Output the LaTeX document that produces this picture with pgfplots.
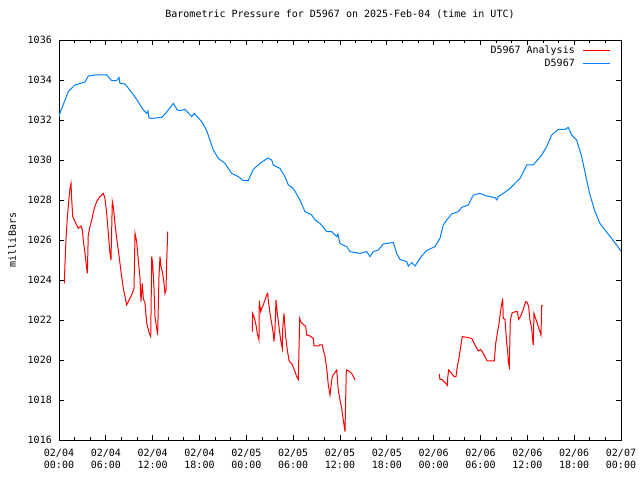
\documentclass[border=0pt]{standalone}
\usepackage{fontspec}
\setmainfont{DejaVu Sans Mono}
\usepackage{pgfplots}
\pgfplotsset{compat=1.18}
\newcommand\gf{\fontsize{10bp}{12bp}\selectfont}
\definecolor{gblue}{RGB}{0,128,255}
\pgfplotsset{
  shortline/.style={legend image code/.code={\draw[##1] (0bp,0bp) -- (27bp,0bp);}},
}
\begin{document}
\begin{tikzpicture}
\path[use as bounding box] (-59bp,-40bp) rectangle (581bp,440bp);
\begin{axis}[
  at={(0,0)}, anchor=south west,
  scale only axis, width=562bp, height=400bp,
  xmin=0, xmax=72, ymin=1016, ymax=1036,
  xtick={0,6,...,72},
  xticklabels={{02/04\\00:00},{02/04\\06:00},{02/04\\12:00},{02/04\\18:00},{02/05\\00:00},{02/05\\06:00},{02/05\\12:00},{02/05\\18:00},{02/06\\00:00},{02/06\\06:00},{02/06\\12:00},{02/06\\18:00},{02/07\\00:00}},
  minor x tick num=2,
  ytick={1016,1018,...,1036},
  /pgf/number format/assume math mode=true,
  /pgf/number format/set thousands separator={},
  yticklabel style={font=\gf, inner sep=0pt, xshift=-7bp},
  xticklabel style={font=\gf, align=center, inner sep=0pt, yshift=-9bp},
  tick align=inside,
  major tick length=5bp, minor tick length=3bp,
  tick style={black, line width=0.8bp},
  axis line style={black, line width=0.8bp},
  title={Barometric Pressure for D5967 on 2025-Feb-04 (time in UTC)},
  title style={font=\gf, at={(axis description cs:0.5,1)}, anchor=base, yshift=17bp, inner sep=0pt},
  ylabel={milliBars},
  ylabel style={font=\gf, at={(axis description cs:-0.0836,0.5)}, anchor=center, inner sep=0pt},
  legend style={at={(axis description cs:1,1)}, anchor=north east, xshift=-10bp, yshift=-5bp,
    draw=none, fill=none, font=\gf, inner sep=0pt, row sep=2bp,
    nodes={inner sep=1bp}, /tikz/column 1/.style={column sep=7bp}},
  legend cell align=right,
  legend plot pos=right,
  shortline,
  unbounded coords=jump,
  clip=true,
]
\addplot[red, line width=1bp] coordinates {
(0.68,1023.83) (0.77,1024.83) (0.90,1026.08) (1.06,1027.08) (1.28,1028.08) (1.41,1028.58) (1.54,1028.83) (1.63,1028.0) (1.76,1027.17) (2.05,1026.92) (2.47,1026.58) (2.82,1026.7) (2.99,1026.5) (3.11,1026.0) (3.33,1025.33) (3.55,1024.58) (3.63,1024.33) (3.75,1026.25) (3.97,1026.67) (4.19,1027.0) (4.52,1027.58) (4.83,1027.92) (5.25,1028.17) (5.68,1028.33) (5.89,1028.08) (6.11,1027.33) (6.32,1026.33) (6.53,1025.33) (6.66,1025.0) (6.83,1027.92) (6.96,1027.67) (7.17,1026.83) (7.39,1026.08) (7.60,1025.5) (7.81,1024.83) (8.03,1024.17) (8.24,1023.58) (8.46,1023.17) (8.67,1022.75) (8.88,1022.92) (9.31,1023.25) (9.61,1023.58) (9.74,1026.33) (9.95,1025.92) (10.16,1025.0) (10.38,1024.08) (10.5,1022.92) (10.67,1023.83) (10.80,1023.08) (11.02,1022.83) (11.24,1021.83) (11.57,1021.33) (11.75,1021.17) (11.88,1025.17) (12.0,1024.83) (12.17,1023.58) (12.30,1022.17) (12.52,1021.58) (12.64,1021.25) (12.81,1024.17) (12.94,1025.17) (13.07,1024.67) (13.23,1024.42) (13.41,1024.0) (13.58,1023.33) (13.71,1023.5) (13.80,1025.0) (13.93,1026.42)
(20,nan)
(24.76,1021.42) (24.81,1022.33) (24.98,1022.17) (25.24,1021.75) (25.40,1021.33) (25.62,1021.0) (25.66,1022.97) (25.84,1022.42) (25.97,1022.58) (26.17,1022.75) (26.39,1023.0) (26.61,1023.25) (26.74,1023.33) (26.81,1023.0) (27.03,1022.33) (27.25,1021.83) (27.45,1021.33) (27.54,1020.92) (27.67,1021.5) (27.80,1023.0) (27.97,1022.33) (28.18,1021.67) (28.40,1021.0) (28.61,1020.58) (28.66,1021.58) (28.82,1022.33) (29.04,1021.17) (29.25,1020.5) (29.50,1019.92) (29.81,1019.83) (30.02,1019.63) (30.23,1019.42) (30.45,1019.17) (30.66,1019.03) (30.75,1020.58) (30.84,1022.08) (30.96,1021.92) (31.17,1021.83) (31.61,1021.67) (31.73,1021.25) (32.16,1021.2) (32.58,1021.08) (32.67,1020.7) (33.22,1020.7) (33.35,1020.75) (33.73,1020.75) (33.86,1020.5) (34.08,1020.17) (34.30,1019.58) (34.50,1018.75) (34.72,1018.25) (34.81,1018.58) (35.01,1019.17) (35.27,1019.33) (35.58,1019.5) (35.78,1018.5) (36.0,1018.0) (36.22,1017.58) (36.42,1017.0) (36.64,1016.42) (36.73,1018.08) (36.81,1019.5) (37.06,1019.47) (37.50,1019.33) (37.79,1019.12) (37.92,1019.0)
(44,nan)
(48.72,1019.3) (48.81,1019.03) (49.03,1019.03) (49.45,1018.87) (49.75,1018.73) (49.80,1019.12) (49.92,1019.5) (50.31,1019.33) (50.60,1019.17) (50.86,1019.17) (51.03,1019.67) (51.24,1020.08) (51.46,1020.67) (51.67,1021.17) (52.31,1021.13) (52.87,1021.08) (53.29,1020.75) (53.72,1020.45) (54.02,1020.53) (54.23,1020.42) (54.57,1020.17) (54.87,1019.95) (55.77,1019.95) (55.95,1020.83) (56.15,1021.33) (56.37,1021.83) (56.59,1022.5) (56.75,1022.87) (56.84,1023.08) (56.92,1022.08) (57.14,1022.03) (57.36,1020.83) (57.48,1020.42) (57.56,1019.92) (57.69,1019.67) (57.82,1022.0) (58.07,1022.37) (58.55,1022.42) (58.71,1022.42) (58.89,1022.03) (59.15,1022.2) (59.48,1022.53) (59.79,1022.92) (60.0,1022.87) (60.17,1022.67) (60.34,1022.0) (60.56,1021.58) (60.69,1021.0) (60.76,1020.75) (60.85,1022.33) (60.98,1022.17) (61.20,1021.92) (61.40,1021.67) (61.62,1021.42) (61.75,1021.25) (61.84,1022.7) (61.97,1022.75)
};
\addlegendentry{D5967 Analysis}
\addplot[gblue, line width=1bp] coordinates {
(0,1032.15) (0.13,1032.35) (1.19,1033.42) (2.05,1033.75) (3.33,1033.9) (3.75,1034.2) (4.61,1034.25) (6.11,1034.25) (6.75,1033.97) (7.39,1033.97) (7.69,1034.13) (7.81,1033.83) (8.46,1033.8) (9.31,1033.38) (9.95,1033.03) (10.80,1032.5) (11.24,1032.33) (11.4,1032.45) (11.53,1032.1) (11.88,1032.08) (13.16,1032.13) (13.80,1032.4) (14.64,1032.83) (15.15,1032.5) (15.5,1032.47) (16.14,1032.53) (17.0,1032.17) (17.33,1032.33) (18.28,1031.92) (18.92,1031.47) (19.77,1030.5) (20.41,1030.08) (21.27,1029.83) (22.12,1029.33) (22.97,1029.17) (23.61,1028.97) (24.25,1028.97) (24.47,1029.17) (24.89,1029.53) (25.75,1029.83) (26.39,1030.0) (26.77,1030.1) (27.25,1030.0) (27.45,1029.75) (28.31,1029.58) (28.95,1029.17) (29.38,1028.75) (30.02,1028.58) (30.87,1028.0) (31.51,1027.42) (32.37,1027.25) (32.80,1027.0) (33.44,1026.83) (34.29,1026.42) (34.93,1026.42) (35.58,1026.17) (35.74,1026.3) (35.99,1025.83) (36.4,1025.75) (36.86,1025.67) (37.28,1025.42) (38.56,1025.33) (39.42,1025.42) (39.84,1025.17) (40.26,1025.42) (40.9,1025.5) (41.55,1025.8) (42.83,1025.88) (43.26,1025.33) (43.68,1025.03) (44.54,1024.92) (44.75,1024.7) (45.18,1024.87) (45.61,1024.7) (46.46,1025.2) (47.1,1025.47) (48.17,1025.67) (48.81,1026.08) (49.23,1026.75) (49.67,1027.0) (50.31,1027.3) (51.15,1027.42) (51.59,1027.63) (52.43,1027.75) (53.08,1028.25) (53.93,1028.33) (54.79,1028.2) (55.47,1028.15) (55.86,1028.12) (56.1,1028.0) (56.28,1028.17) (56.92,1028.33) (57.78,1028.58) (58.63,1028.92) (59.06,1029.08) (59.92,1029.75) (60.76,1029.75) (61.84,1030.25) (62.48,1030.67) (63.12,1031.25) (63.96,1031.53) (64.82,1031.53) (65.24,1031.63) (65.68,1031.25) (66.32,1031.0) (66.96,1030.17) (67.6,1029.0) (68.03,1028.25) (68.67,1027.42) (69.3,1026.83) (69.95,1026.5) (70.8,1026.08) (71.44,1025.75) (71.87,1025.5) (72,1025.45)
};
\addlegendentry{D5967}
\end{axis}
\end{tikzpicture}
\end{document}
